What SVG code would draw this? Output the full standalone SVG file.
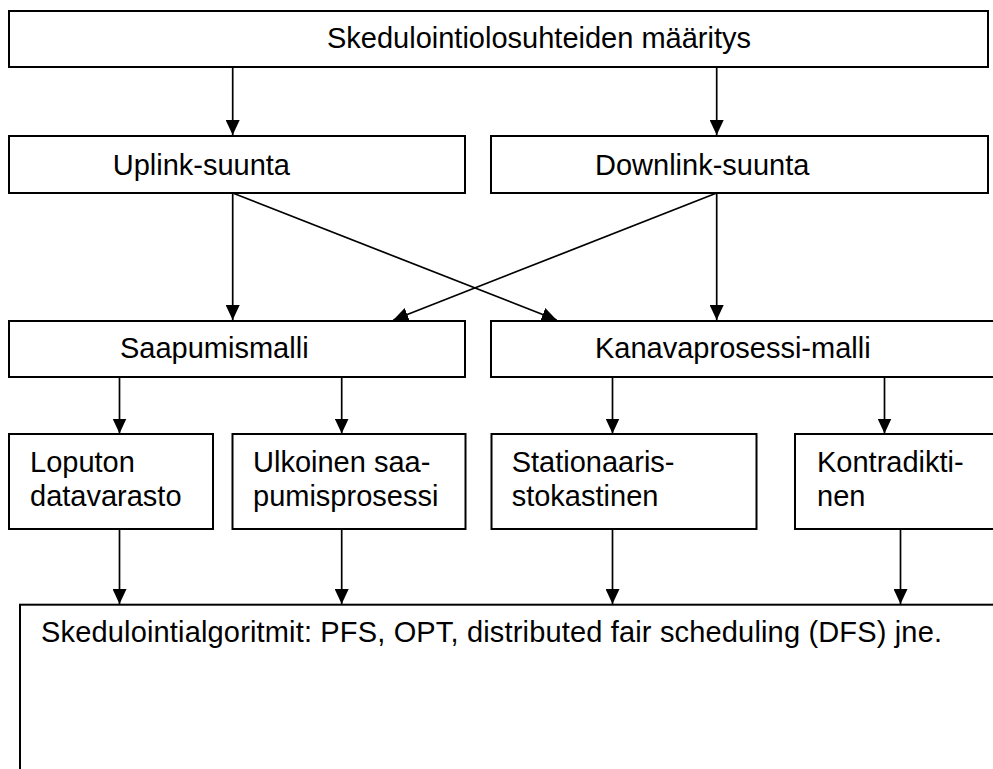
<svg xmlns="http://www.w3.org/2000/svg" width="993" height="769" viewBox="0 0 993 769">
<style>
.box{fill:#fff;stroke:#000;stroke-width:2}
.t{font-family:"Liberation Sans",Arial,sans-serif;font-size:29px;fill:#000}
.c{stroke:#000;stroke-width:1.7;fill:none}
</style>
<defs>
<marker id="ah" markerUnits="userSpaceOnUse" markerWidth="15" markerHeight="14" refX="15" refY="7" orient="auto" viewBox="0 0 15 14">
<path d="M0,0 L15,7 L0,14 z" fill="#000"/>
</marker>
</defs>
<rect width="993" height="769" fill="#fff"/>
<g id="n-top"><rect class="box" x="9" y="11" width="979" height="56"/><text class="t" x="539" y="47.5" text-anchor="middle">Skedulointiolosuhteiden määritys</text></g>
<g id="n-uplink"><rect class="box" x="9" y="136" width="456" height="57"/><text class="t" x="112.7" y="175">Uplink-suunta</text></g>
<g id="n-downlink"><rect class="box" x="491" y="136" width="497" height="57"/><text class="t" x="595" y="175">Downlink-suunta</text></g>
<g id="n-saapumis"><rect class="box" x="9" y="321" width="456" height="56"/><text class="t" x="120" y="358.3">Saapumismalli</text></g>
<g id="n-kanava"><rect class="box" x="491" y="321" width="520" height="56"/><text class="t" x="595" y="358.3">Kanavaprosessi-malli</text></g>
<g id="n-loputon"><rect class="box" x="9" y="434" width="204" height="95"/><text class="t" x="30" y="472.3">Loputon</text><text class="t" x="30" y="505.7">datavarasto</text></g>
<g id="n-ulkoinen"><rect class="box" x="232.5" y="434" width="233" height="95"/><text class="t" x="253" y="472.3">Ulkoinen saa-</text><text class="t" x="253" y="505.7">pumisprosessi</text></g>
<g id="n-stationaaris"><rect class="box" x="491.5" y="434" width="265" height="95"/><text class="t" x="511.7" y="472.3">Stationaaris-</text><text class="t" x="511.7" y="505.7">stokastinen</text></g>
<g id="n-kontradikti"><rect class="box" x="795" y="434" width="220" height="95"/><text class="t" x="817" y="472.3">Kontradikti-</text><text class="t" x="817" y="505.7">nen</text></g>
<g id="n-algoritmit"><rect class="box" x="20" y="604.7" width="1000" height="200"/><text class="t" x="41" y="641.7" textLength="901" lengthAdjust="spacing">Skedulointialgoritmit: PFS, OPT, distributed fair scheduling (DFS) jne.</text></g>
<g id="connectors">
<line class="c" x1="232.7" y1="67" x2="232.7" y2="135" marker-end="url(#ah)"/>
<line class="c" x1="716.7" y1="67" x2="716.7" y2="135" marker-end="url(#ah)"/>
<line class="c" x1="232.7" y1="193" x2="232.7" y2="320" marker-end="url(#ah)"/>
<line class="c" x1="232.7" y1="193" x2="556.7" y2="320" marker-end="url(#ah)"/>
<line class="c" x1="716.7" y1="193" x2="393.3" y2="320" marker-end="url(#ah)"/>
<line class="c" x1="716.7" y1="193" x2="716.7" y2="320" marker-end="url(#ah)"/>
<line class="c" x1="119.5" y1="377" x2="119.5" y2="433.5" marker-end="url(#ah)"/>
<line class="c" x1="341.7" y1="377" x2="341.7" y2="433.5" marker-end="url(#ah)"/>
<line class="c" x1="612.5" y1="377" x2="612.5" y2="433.5" marker-end="url(#ah)"/>
<line class="c" x1="884.5" y1="377" x2="884.5" y2="433.5" marker-end="url(#ah)"/>
<line class="c" x1="119.5" y1="529" x2="119.5" y2="604" marker-end="url(#ah)"/>
<line class="c" x1="341.7" y1="529" x2="341.7" y2="604" marker-end="url(#ah)"/>
<line class="c" x1="612.5" y1="529" x2="612.5" y2="604" marker-end="url(#ah)"/>
<line class="c" x1="900.5" y1="529" x2="900.5" y2="604" marker-end="url(#ah)"/>
</g>
</svg>
